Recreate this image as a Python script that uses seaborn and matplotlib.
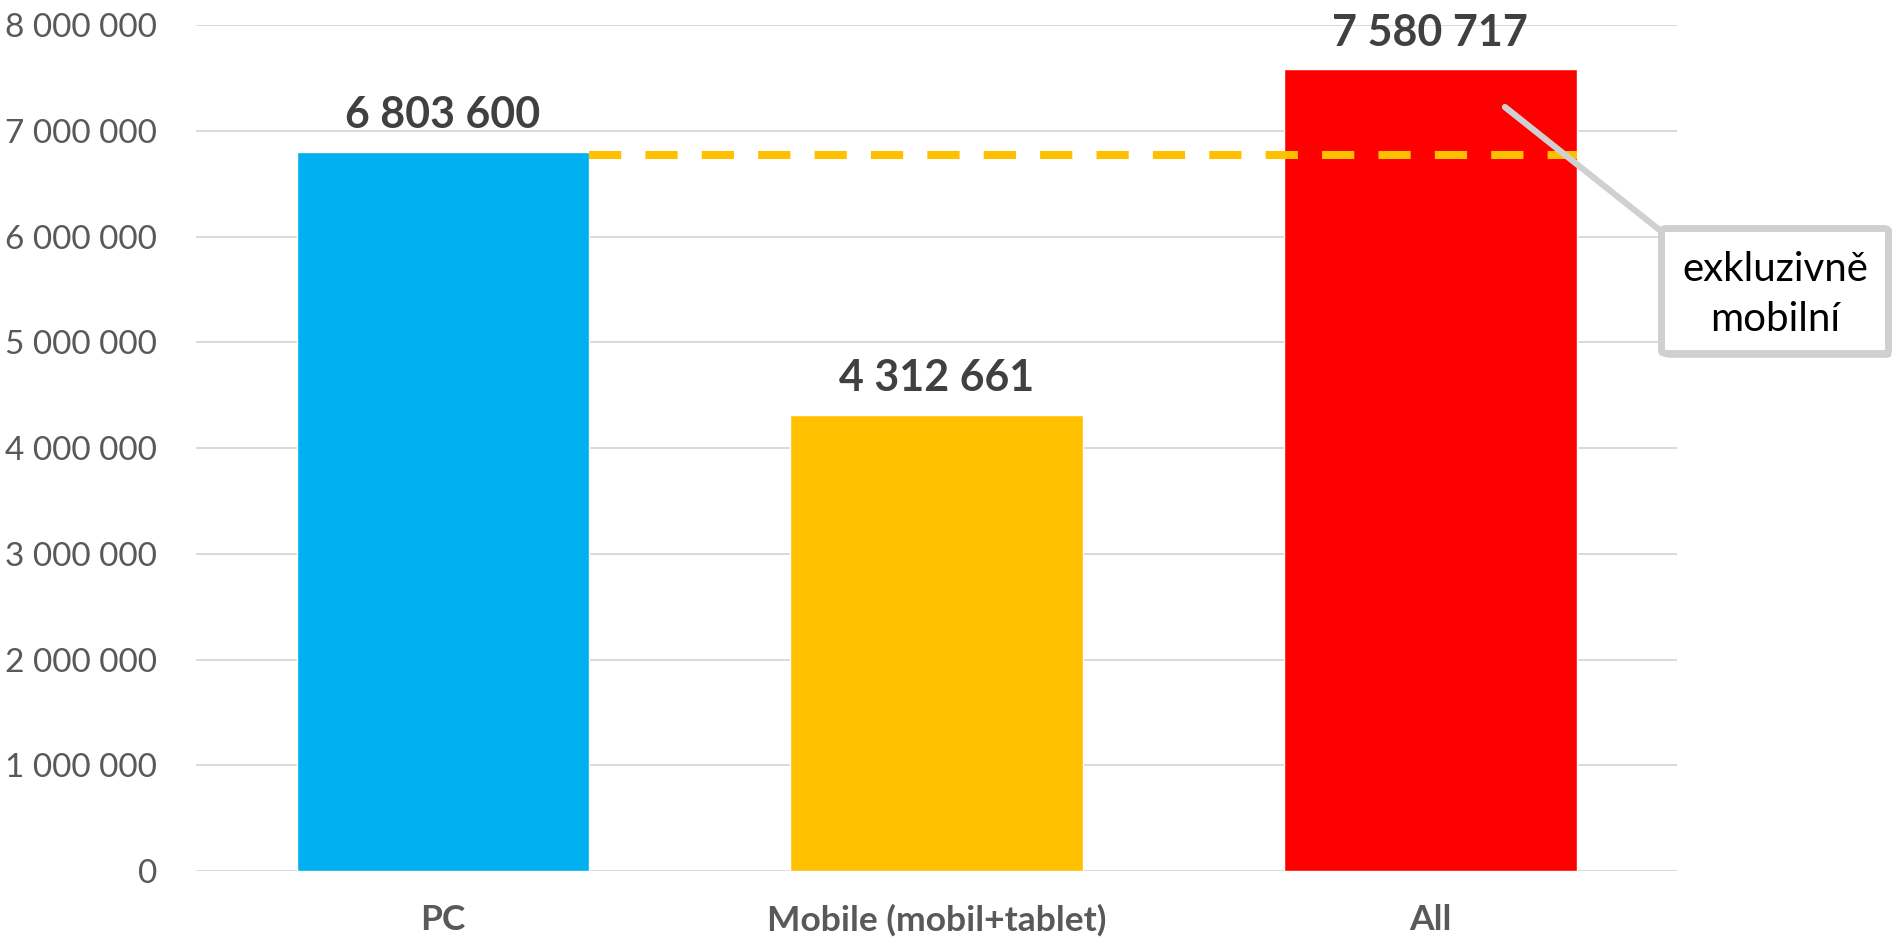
"""
plot.py - PC vs mobile vs all audience, with the "exclusively mobile" gap.

Produces:
  out.png
"""

import matplotlib.pyplot as plt
import matplotlib.patheffects as pe
import pandas as pd
import seaborn as sns
from matplotlib.patches import FancyBboxPatch
from matplotlib.ticker import FuncFormatter

categories = ["PC", "Mobile (mobil+tablet)", "All"]
values     = [6_803_600, 4_312_661, 7_580_717]
colors     = ["#00B0F0", "#FFC000", "#FF0000"]
y_ticks    = [0, 1_000_000, 2_000_000, 3_000_000, 4_000_000,
              5_000_000, 6_000_000, 7_000_000, 8_000_000]
callout    = "exkluzivně\nmobilní"

FONT = ["Lato", "DejaVu Sans"]


def spaced(v, _pos=None) -> str:
    return f"{v:,.0f}".replace(",", " ")


def main() -> None:
    sns.set_theme(style="white")
    plt.rcParams["font.family"] = FONT

    df = pd.DataFrame({"cat": categories, "val": values})

    fig = plt.figure(figsize=(18.98, 9.38), dpi=100)
    ax = fig.add_axes([0.1033, 0.0714, 0.7803, 0.9019])

    sns.barplot(data=df, x="cat", y="val", hue="cat", palette=colors,
                saturation=1, width=0.593, legend=False, ax=ax, zorder=2)

    ax.set_xlim(-0.5, 2.5)
    ax.set_ylim(0, 8_000_000)
    ax.set_yticks(y_ticks)
    ax.yaxis.set_major_formatter(FuncFormatter(spaced))
    ax.grid(axis="y", color="#D9D9D9", linewidth=1.4, zorder=0)
    ax.set_axisbelow(True)
    for s in ax.spines.values():
        s.set_visible(False)
    ax.set_xlabel("")
    ax.set_ylabel("")
    ax.tick_params(axis="y", length=0, pad=28, labelsize=24, labelcolor="#595959")
    ax.tick_params(axis="x", length=0, pad=24, labelsize=25.5, labelcolor="#595959")
    for lbl in ax.get_xticklabels():
        lbl.set_fontweight("bold")

    # value labels
    for patch, v in zip(ax.patches, values):
        ax.annotate(spaced(v), xy=(patch.get_x() + patch.get_width() / 2, v),
                    xytext=(0, 12), textcoords="offset points",
                    ha="center", va="bottom", fontsize=31, fontweight="bold",
                    color="#404040")

    # dashed reference line at the PC level, from PC bar edge to All bar edge
    pc, _, al = ax.patches[:3]
    ax.hlines(values[0] - 30_000, pc.get_x() + pc.get_width(), al.get_x() + al.get_width(),
              colors="#FFC000", linewidth=5.8, linestyles=(0, (4.0, 3.0)), zorder=3)

    # callout box + leader line
    shadow = [pe.SimplePatchShadow(offset=(2, -3), alpha=0.3), pe.Normal()]
    leader = ax.annotate("", xy=(0.7929, 0.8859), xycoords="figure fraction",
                         xytext=(0.8757, 0.7527), textcoords="figure fraction",
                         arrowprops=dict(arrowstyle="-", color="#D0D0D0", lw=4.5,
                                         shrinkA=0, shrinkB=0), zorder=4)
    leader.arrow_patch.set_path_effects(shadow)
    box = FancyBboxPatch((0.8754, 0.6231), 0.1196, 0.1333,
                         boxstyle="round,pad=0,rounding_size=0.003",
                         transform=fig.transFigure, facecolor="white",
                         edgecolor="#D0D0D0", linewidth=5, zorder=5)
    box.set_path_effects(shadow)
    fig.patches.append(box)
    fig.text(0.9352, 0.686, callout, ha="center", va="center",
             fontsize=29, color="black", linespacing=1.45, zorder=6)

    fig.savefig("out.png", dpi=100)
    plt.close(fig)


if __name__ == "__main__":
    main()
